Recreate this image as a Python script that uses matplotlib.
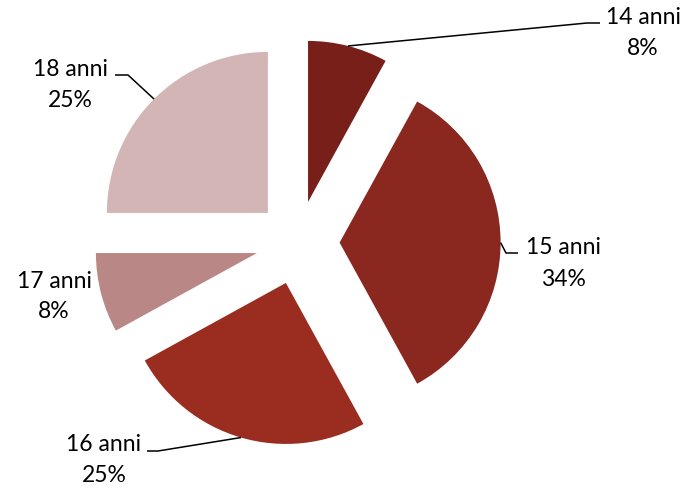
import numpy as np
import matplotlib
matplotlib.use("Agg")
import matplotlib.pyplot as plt

categories = ["14 anni", "15 anni", "16 anni", "17 anni", "18 anni"]
values = [8, 34, 25, 8, 25]
colors = ["#771F18", "#8A271E", "#9A2D20", "#B98886", "#D2B5B4"]

W, H = 687, 490
fig = plt.figure(figsize=(W / 100, H / 100), dpi=100)
ax = fig.add_axes([0, 0, 1, 1])

def P(x, y):
    return (x, H - y)

R = 161
wedges, _ = ax.pie(values, colors=colors, startangle=90, counterclock=False,
                   radius=R, center=P(297.6, 242.6), explode=[42] * len(values),
                   wedgeprops=dict(linewidth=0), frame=True)
ax.set_xlim(0, W)
ax.set_ylim(0, H)
ax.set_aspect("equal")
ax.axis("off")

# label layout: (text center x, y of first line) in pixels, elbow, end
layout = [
    dict(text=(643, 18), elbow=(587, 23), end=(600, 23)),
    dict(text=(563, 248), elbow=(506, 253), end=(518, 253)),
    dict(text=(104, 444), elbow=(158, 451), end=(147, 451)),
    dict(text=(54, 281), elbow=None, end=None),
    dict(text=(70, 70), elbow=(128, 75), end=(115, 75)),
]

for w, cat, v, lay in zip(wedges, categories, values, layout):
    tm = np.deg2rad((w.theta1 + w.theta2) / 2)
    cx, cy = w.center
    ax_pt = (cx + w.r * np.cos(tm), cy + w.r * np.sin(tm))
    if lay["elbow"] is not None:
        e = P(*lay["elbow"])
        n = P(*lay["end"])
        ax.plot([ax_pt[0], e[0], n[0]], [ax_pt[1], e[1], n[1]],
                color="black", lw=1.1, solid_capstyle="butt")
    tx, ty = lay["text"]
    ax.text(*P(tx, ty), cat, ha="center", va="center", fontsize=16.5,
            family="Lato", color="black")
    ax.text(*P(tx, ty + 31), f"{v}%", ha="center", va="center", fontsize=16.5,
            family="Lato", color="black")

fig.savefig("out.png", dpi=100)
